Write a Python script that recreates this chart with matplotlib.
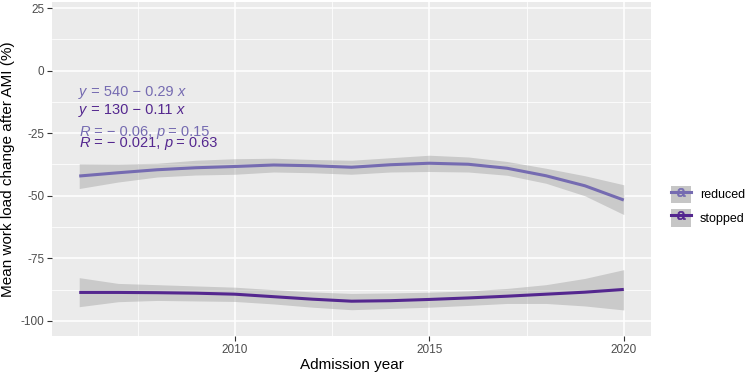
import matplotlib
matplotlib.use("Agg")
import matplotlib.pyplot as plt
from matplotlib.lines import Line2D
from matplotlib.patches import Patch
from matplotlib.ticker import FuncFormatter

plt.rcParams['font.family'] = ['Liberation Sans', 'DejaVu Sans']
plt.rcParams['mathtext.fontset'] = 'custom'
plt.rcParams['mathtext.sf'] = 'Liberation Sans'

# ---- data ----
years = [2006, 2007, 2008, 2009, 2010, 2011, 2012, 2013, 2014, 2015, 2016, 2017, 2018, 2019, 2020]

reduced_fit = [-42.1, -40.8, -39.6, -38.8, -38.3, -37.7, -38.0, -38.6, -37.6, -37.0, -37.4, -39.0, -42.0, -46.0, -51.7]
reduced_hi = [-37.2, -37.3, -37.0, -35.8, -35.2, -35.0, -35.5, -35.8, -34.8, -33.8, -34.5, -36.3, -39.0, -42.0, -45.6]
reduced_lo = [-47.1, -44.5, -42.5, -41.7, -41.4, -40.5, -40.8, -41.4, -40.5, -40.3, -40.5, -41.8, -45.0, -50.0, -57.5]

stopped_fit = [-88.6, -88.6, -88.7, -88.9, -89.3, -90.3, -91.3, -92.1, -91.9, -91.4, -90.8, -90.1, -89.3, -88.5, -87.4]
stopped_hi = [-82.7, -85.0, -85.5, -86.0, -86.5, -87.5, -88.4, -89.0, -88.8, -88.5, -88.0, -87.0, -85.5, -83.0, -79.5]
stopped_lo = [-94.3, -92.3, -91.8, -92.0, -92.2, -93.2, -94.5, -95.5, -95.0, -94.5, -93.8, -93.0, -93.0, -94.0, -95.6]

groups = ["reduced", "stopped"]
colors = {"reduced": "#756BB1", "stopped": "#54278F"}

# label pieces: (text, italic?)
eq_labels = {
    "reduced": [("y", True), (" = 540 \u2212 0.29 ", False), ("x", True)],
    "stopped": [("y", True), (" = 130 \u2212 0.11 ", False), ("x", True)],
}
r_labels = {
    "reduced": [("R", True), (" = \u2212 0.06, ", False), ("p", True), (" = 0.15", False)],
    "stopped": [("R", True), (" = \u2212 0.021, ", False), ("p", True), (" = 0.63", False)],
}
label_y = {"eq_reduced": -11.4, "eq_stopped": -18.6, "r_reduced": -27.2, "r_stopped": -31.9}

x_ticks = [2010, 2015, 2020]
y_ticks = [25, 0, -25, -50, -75, -100]

# ---- figure ----
W, H = 749, 373
fig = plt.figure(figsize=(W / 100, H / 100), dpi=100)
ax = fig.add_axes([52 / W, 37 / H, (651 - 52) / W, (336 - 2) / H])
ax.set_facecolor("#EBEBEB")

fits = {"reduced": (reduced_fit, reduced_lo, reduced_hi),
        "stopped": (stopped_fit, stopped_lo, stopped_hi)}

for g in groups:
    fit, lo, hi = fits[g]
    ax.fill_between(years, lo, hi, color="#999999", alpha=0.4, lw=0, zorder=2)
    ax.plot(years, fit, color=colors[g], lw=2.2, zorder=3, solid_capstyle="butt")

ax.set_xlim(2005.3, 2020.7)
ax.set_ylim(-106, 27.4)
ax.set_xticks(x_ticks)
ax.set_xticks([2007.5, 2012.5, 2017.5], minor=True)
ax.set_yticks(y_ticks)
ax.set_yticks([12.5, -12.5, -37.5, -62.5, -87.5], minor=True)
ax.yaxis.set_major_formatter(FuncFormatter(lambda v, p: f"{int(v)}"))

ax.grid(which="major", color="white", lw=1.1, zorder=1)
ax.grid(which="minor", color="white", lw=0.55, zorder=1)
ax.set_axisbelow(True)
for s in ax.spines.values():
    s.set_visible(False)
ax.tick_params(which="major", length=3.5, width=0.8, color="#333333",
               labelcolor="#4D4D4D", labelsize=8.5, pad=2)
ax.tick_params(which="minor", length=0)

ax.set_xlabel("Admission year", fontsize=11, color="black", labelpad=2)
ax.set_ylabel("Mean work load change after AMI (%)", fontsize=11, color="black", labelpad=4)


def chained_text(x, y, pieces, color, size=10.5):
    prev = None
    for txt, ital in pieces:
        style = "italic" if ital else "normal"
        if prev is None:
            prev = ax.text(x, y, txt, color=color, fontsize=size, fontstyle=style,
                           va="bottom", ha="left", zorder=5)
        else:
            prev = ax.annotate(txt, xy=(1, 0), xycoords=prev, color=color, fontsize=size,
                               fontstyle=style, va="bottom", ha="left", zorder=5)
    return prev


chained_text(2006.0, label_y["eq_reduced"], eq_labels["reduced"], colors["reduced"])
chained_text(2006.0, label_y["eq_stopped"], eq_labels["stopped"], colors["stopped"])
chained_text(2006.0, label_y["r_reduced"], r_labels["reduced"], colors["reduced"])
chained_text(2006.0, label_y["r_stopped"], r_labels["stopped"], colors["stopped"])

# legend
handles = []
for g in groups:
    handles.append((Patch(facecolor="#C6C6C6", edgecolor="none"),
                    Line2D([], [], color=colors[g], lw=2.2, marker=r"$\mathsf{a}$", markersize=6,
                           markeredgewidth=0.5)))
leg = fig.legend(handles, groups, loc="center left", bbox_to_anchor=(666 / W, 1 - 206 / H),
                 frameon=False, fontsize=9, handlelength=1.6, handleheight=1.8,
                 labelspacing=0.45, handletextpad=0.7, borderaxespad=0)
for t in leg.get_texts():
    t.set_color("black")

fig.savefig("out.png", dpi=100)
